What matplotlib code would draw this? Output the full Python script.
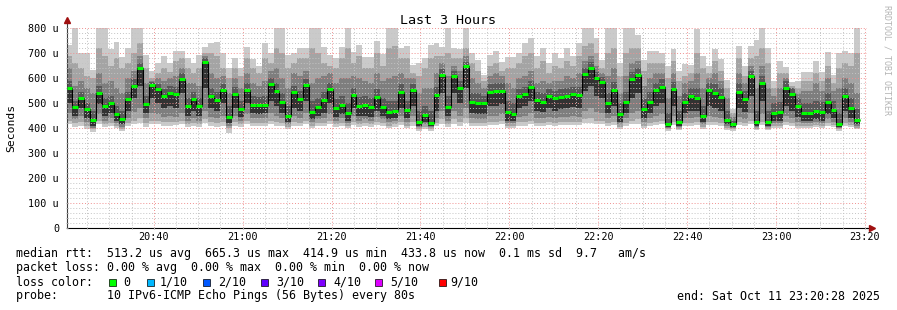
import numpy as np
import matplotlib
matplotlib.use('Agg')
import matplotlib.pyplot as plt
from matplotlib.patches import Rectangle
from matplotlib.ticker import MultipleLocator, FuncFormatter

plt.rcParams['font.family'] = ['DejaVu Sans Mono']

# time axis in minutes after 20:00, one step = 80 s
t_start = 20 + 28 / 60.0      # 20:20:28
t_first = 21.6                # first full 80 s step (20:21:36)
step_min = 80 / 60.0

# median rtt per step (us)
med = [561, 484, 521, 476, 431, 540, 489, 500, 456, 436, 516, 569, 640, 496, 572,
       556, 527, 540, 536, 596, 487, 516, 488, 665, 528, 511, 551, 445, 536, 475,
       553, 492, 492, 492, 576, 547, 504, 449, 543, 516, 572, 463, 485, 511, 557,
       479, 492, 459, 532, 489, 492, 484, 523, 485, 465, 468, 543, 472, 553, 423,
       452, 420, 532, 612, 485, 608, 561, 647, 504, 500, 500, 544, 547, 547, 463,
       455, 528, 535, 565, 512, 505, 528, 520, 525, 530, 535, 532, 615, 640, 600,
       585, 499, 551, 455, 504, 595, 612, 476, 505, 551, 564, 416, 555, 424, 503,
       528, 519, 448, 552, 541, 523, 431, 416, 544, 515, 608, 424, 579, 423, 460,
       465, 560, 535, 487, 460, 460, 468, 464, 503, 473, 415, 527, 480, 433]

# smoke: sorted pings per step (us)
p10 = [732, 800, 699, 699, 632, 800, 800, 715, 744, 683, 719, 800, 800, 692, 629,
       661, 688, 661, 709, 709, 679, 659, 692, 725, 739, 745, 701, 639, 679, 639,
       725, 675, 648, 741, 699, 800, 800, 692, 699, 719, 721, 800, 800, 725, 692,
       679, 725, 800, 705, 732, 685, 685, 748, 695, 800, 800, 719, 729, 652, 659,
       679, 732, 739, 725, 800, 719, 716, 800, 699, 672, 612, 692, 708, 665, 685,
       685, 700, 740, 760, 690, 720, 660, 700, 680, 720, 690, 740, 800, 800, 760,
       673, 800, 800, 659, 800, 800, 772, 672, 708, 708, 699, 648, 717, 628, 655,
       652, 795, 688, 648, 715, 675, 592, 478, 728, 648, 728, 752, 800, 720, 587,
       668, 645, 585, 587, 625, 625, 669, 625, 705, 612, 699, 709, 699, 800]
p9 = [690, 660, 640, 610, 600, 720, 690, 650, 680, 640, 660, 700, 740, 640, 600,
      620, 640, 625, 670, 680, 640, 620, 640, 700, 700, 690, 640, 600, 640, 610,
      680, 640, 620, 680, 660, 720, 700, 640, 660, 680, 680, 720, 700, 660, 650,
      640, 680, 720, 660, 690, 640, 640, 700, 650, 720, 730, 680, 680, 620, 610,
      640, 680, 690, 690, 700, 680, 680, 720, 660, 630, 590, 650, 660, 630, 640,
      640, 660, 690, 700, 640, 670, 620, 650, 640, 670, 650, 690, 730, 740, 700,
      640, 700, 720, 610, 700, 720, 720, 630, 660, 660, 660, 600, 670, 590, 610,
      620, 700, 640, 620, 670, 630, 560, 460, 680, 610, 680, 690, 720, 660, 560,
      620, 620, 570, 560, 590, 590, 620, 590, 650, 580, 640, 660, 650, 700]
p8 = [640, 570, 590, 560, 540, 620, 580, 590, 560, 540, 600, 630, 690, 580, 590,
      600, 590, 600, 610, 640, 580, 580, 570, 690, 620, 600, 610, 540, 600, 560,
      620, 580, 570, 590, 630, 640, 600, 560, 620, 610, 630, 580, 600, 610, 620,
      580, 600, 600, 610, 600, 590, 580, 620, 590, 600, 610, 620, 600, 600, 540,
      560, 560, 620, 660, 610, 650, 630, 690, 600, 580, 560, 610, 620, 610, 580,
      560, 600, 610, 630, 580, 590, 580, 590, 590, 610, 600, 620, 670, 690, 650,
      620, 610, 640, 540, 610, 660, 670, 570, 600, 620, 620, 520, 620, 530, 580,
      590, 620, 560, 600, 620, 590, 520, 445, 620, 580, 650, 560, 650, 560, 530,
      560, 600, 560, 540, 550, 550, 580, 550, 600, 550, 560, 600, 580, 540]
p7 = [590, 510, 545, 500, 470, 570, 520, 530, 490, 470, 545, 595, 660, 530, 585,
      575, 555, 570, 565, 620, 520, 545, 520, 680, 560, 545, 575, 490, 565, 510,
      580, 530, 525, 530, 600, 580, 540, 490, 570, 550, 595, 510, 520, 545, 580,
      515, 530, 500, 560, 525, 530, 520, 555, 520, 510, 510, 575, 510, 575, 470,
      490, 470, 565, 635, 530, 630, 590, 665, 540, 540, 530, 575, 580, 580, 510,
      500, 555, 565, 590, 545, 540, 555, 550, 555, 560, 565, 565, 640, 665, 625,
      605, 540, 585, 500, 545, 625, 640, 515, 545, 580, 595, 460, 585, 470, 540,
      560, 560, 490, 580, 575, 560, 470, 430, 580, 550, 630, 470, 610, 470, 500,
      505, 590, 560, 520, 500, 500, 510, 505, 540, 510, 460, 560, 520, 475]
p5 = [500, 450, 480, 440, 410, 495, 450, 460, 430, 415, 470, 520, 570, 460, 520,
      500, 480, 490, 480, 540, 450, 470, 450, 560, 480, 470, 500, 420, 480, 445,
      500, 460, 455, 460, 510, 490, 460, 425, 480, 470, 510, 435, 450, 460, 500,
      445, 455, 430, 480, 450, 450, 445, 470, 450, 435, 440, 480, 440, 490, 410,
      425, 410, 470, 540, 450, 540, 500, 560, 460, 455, 455, 490, 490, 495, 430,
      430, 480, 490, 510, 470, 465, 480, 470, 475, 480, 485, 480, 550, 570, 530,
      520, 460, 490, 425, 460, 520, 540, 440, 460, 490, 500, 405, 490, 410, 460,
      470, 470, 425, 490, 480, 470, 415, 405, 480, 465, 530, 410, 510, 410, 430,
      430, 490, 470, 445, 430, 430, 435, 430, 455, 440, 405, 470, 440, 415]
p3 = [460, 435, 450, 425, 400, 455, 430, 440, 420, 405, 440, 465, 480, 440, 460,
      455, 445, 450, 445, 460, 430, 440, 430, 470, 445, 440, 450, 410, 450, 430,
      455, 440, 440, 440, 460, 450, 440, 415, 450, 440, 460, 425, 435, 440, 455,
      430, 440, 420, 450, 430, 435, 430, 445, 435, 425, 430, 450, 425, 450, 405,
      415, 405, 440, 470, 430, 470, 450, 480, 440, 435, 435, 450, 450, 455, 420,
      420, 445, 450, 460, 440, 440, 445, 440, 445, 445, 450, 445, 470, 480, 465,
      460, 440, 450, 415, 440, 460, 470, 425, 440, 450, 455, 400, 450, 405, 440,
      440, 445, 415, 450, 445, 440, 408, 400, 445, 435, 460, 405, 455, 405, 420,
      420, 450, 440, 425, 420, 420, 425, 420, 435, 425, 400, 440, 425, 410]
p2 = [430, 420, 425, 410, 395, 430, 415, 420, 410, 395, 420, 430, 440, 420, 430,
      430, 425, 425, 425, 430, 415, 420, 415, 435, 425, 420, 425, 400, 425, 415,
      430, 420, 420, 420, 430, 425, 420, 405, 425, 420, 430, 410, 420, 420, 430,
      415, 420, 410, 425, 415, 420, 415, 425, 420, 410, 415, 425, 410, 425, 398,
      405, 398, 420, 435, 415, 435, 425, 440, 420, 420, 420, 425, 425, 430, 410,
      410, 425, 425, 430, 420, 420, 425, 420, 425, 425, 425, 425, 435, 440, 430,
      430, 420, 425, 405, 420, 430, 435, 410, 420, 425, 430, 395, 425, 398, 420,
      420, 425, 405, 425, 425, 420, 400, 395, 425, 420, 430, 398, 425, 398, 410,
      410, 425, 420, 410, 410, 410, 412, 410, 420, 412, 395, 420, 412, 402]
p1 = [415, 405, 410, 395, 385, 415, 405, 410, 400, 390, 410, 415, 420, 405, 415,
      415, 410, 410, 412, 415, 405, 410, 405, 420, 410, 405, 410, 380, 410, 405,
      415, 410, 410, 410, 415, 410, 410, 395, 410, 410, 415, 400, 410, 410, 415,
      405, 410, 400, 412, 405, 410, 405, 412, 410, 400, 405, 412, 400, 410, 390,
      395, 390, 410, 415, 405, 415, 410, 420, 410, 410, 410, 412, 412, 415, 400,
      400, 410, 410, 415, 410, 410, 412, 410, 412, 412, 412, 412, 420, 420, 415,
      415, 410, 412, 395, 410, 415, 415, 400, 410, 412, 415, 388, 412, 392, 410,
      410, 412, 398, 412, 412, 410, 392, 388, 412, 410, 415, 392, 412, 392, 402,
      402, 412, 410, 402, 402, 402, 405, 402, 410, 405, 390, 410, 405, 398]

x_ticks = [40, 60, 80, 100, 120, 140, 160, 180, 200]
x_labels = ['20:40', '21:00', '21:20', '21:40', '22:00', '22:20', '22:40', '23:00', '23:20']

loss_labels = ['0', '1/10', '2/10', '3/10', '4/10', '5/10', '9/10']
loss_colors = ['#00ff00', '#00b8ff', '#0059ff', '#5e00ff', '#7e00ff', '#dd00ff', '#ff0000']

n = len(med)
edges = np.concatenate([[t_start], t_first + np.arange(n) * step_min])

W, H = 897, 310
fig = plt.figure(figsize=(W / 100, H / 100), dpi=100)
ax = fig.add_axes([67 / W, 1 - 228 / H, 800 / W, 200 / H])

# smoke layers, outer to inner
ax.stairs(p10, edges, baseline=p1, fill=True, color='#cacaca', lw=0, zorder=1)
ax.stairs(p9, edges, baseline=p2, fill=True, color='#a4a4a4', lw=0, zorder=1)
ax.stairs(p8, edges, baseline=p3, fill=True, color='#7e7e7e', lw=0, zorder=1)
ax.stairs(p7, edges, baseline=p5, fill=True, color='#585858', lw=0, zorder=1)
ax.stairs(med, edges, baseline=p5, fill=True, color='#323232', lw=0, zorder=1)

# median line
ax.stairs(med, edges, baseline=None, color='black', lw=0.8, zorder=3)
ax.hlines(med, edges[:-1], edges[1:], colors='#00ff00', lw=2.2, zorder=4)

ax.set_xlim(t_start, t_start + 180)
ax.set_ylim(0, 800)
ax.set_xticks(x_ticks)
ax.set_xticklabels(x_labels)
ax.xaxis.set_minor_locator(MultipleLocator(5))
ax.yaxis.set_major_locator(MultipleLocator(100))
ax.yaxis.set_minor_locator(MultipleLocator(20))
ax.yaxis.set_major_formatter(FuncFormatter(lambda v, p: '0' if v == 0 else '%d u' % v))

ax.set_axisbelow(False)
ax.grid(which='minor', color='#c4c4c4', ls=(0, (1, 2)), lw=0.7)
ax.grid(which='major', color='#f09090', ls=(0, (1, 2)), lw=0.7)

for s in ['top', 'right']:
    ax.spines[s].set_visible(False)
ax.spines['left'].set_color('#404040')
ax.spines['bottom'].set_color('black')
ax.tick_params(which='both', labelsize=7.3, length=1.5, color='#a0a0a0', direction='inout')
ax.tick_params(axis='y', pad=5)
ax.tick_params(axis='x', pad=2)

# axis arrows
ax.plot([t_start, t_start], [800, 830], color='#404040', lw=0.8, clip_on=False)
ax.plot([t_start + 180, t_start + 181], [0, 0], color='black', lw=0.8, clip_on=False)
ax.plot([t_start], [832], marker='^', color='#a01010', ms=4, clip_on=False)
ax.plot([t_start + 181.2], [0], marker='>', color='#a01010', ms=4, clip_on=False)

fig.text(448 / W, 1 - 20 / H, 'Last 3 Hours', ha='center', va='center', fontsize=9.6)
fig.text(11 / W, 1 - 128 / H, 'Seconds', rotation=90, ha='center', va='center', fontsize=8.2)
fig.text(887 / W, 1 - 5 / H, 'RRDTOOL / TOBI OETIKER', rotation=-90, ha='center', va='top',
         fontsize=6, color='#b4b4b4')

fs = 8.4
lines = ['median rtt:  513.2 us avg  665.3 us max  414.9 us min  433.8 us now  0.1 ms sd  9.7   am/s',
         'packet loss: 0.00 % avg  0.00 % max  0.00 % min  0.00 % now',
         'loss color:',
         'probe:       10 IPv6-ICMP Echo Pings (56 Bytes) every 80s']
for i, line in enumerate(lines):
    fig.text(16 / W, 1 - (257.5 + 14 * i) / H, line, ha='left', va='baseline', fontsize=fs)

box_x = [109, 147, 203, 261, 318, 375, 439]
lab_x = [123, 160, 218, 276, 333, 390, 450]
for bx, lx, lab, col in zip(box_x, lab_x, loss_labels, loss_colors):
    fig.patches.append(Rectangle((bx / W, 1 - 285.5 / H), 7 / W, 7 / H, transform=fig.transFigure,
                                 facecolor=col, edgecolor='black', lw=0.5))
    fig.text(lx / W, 1 - 285.5 / H, lab, ha='left', va='baseline', fontsize=fs)

fig.text(880 / W, 1 - 299.5 / H, 'end: Sat Oct 11 23:20:28 2025', ha='right', va='baseline', fontsize=fs)

fig.savefig('out.png', dpi=100)
